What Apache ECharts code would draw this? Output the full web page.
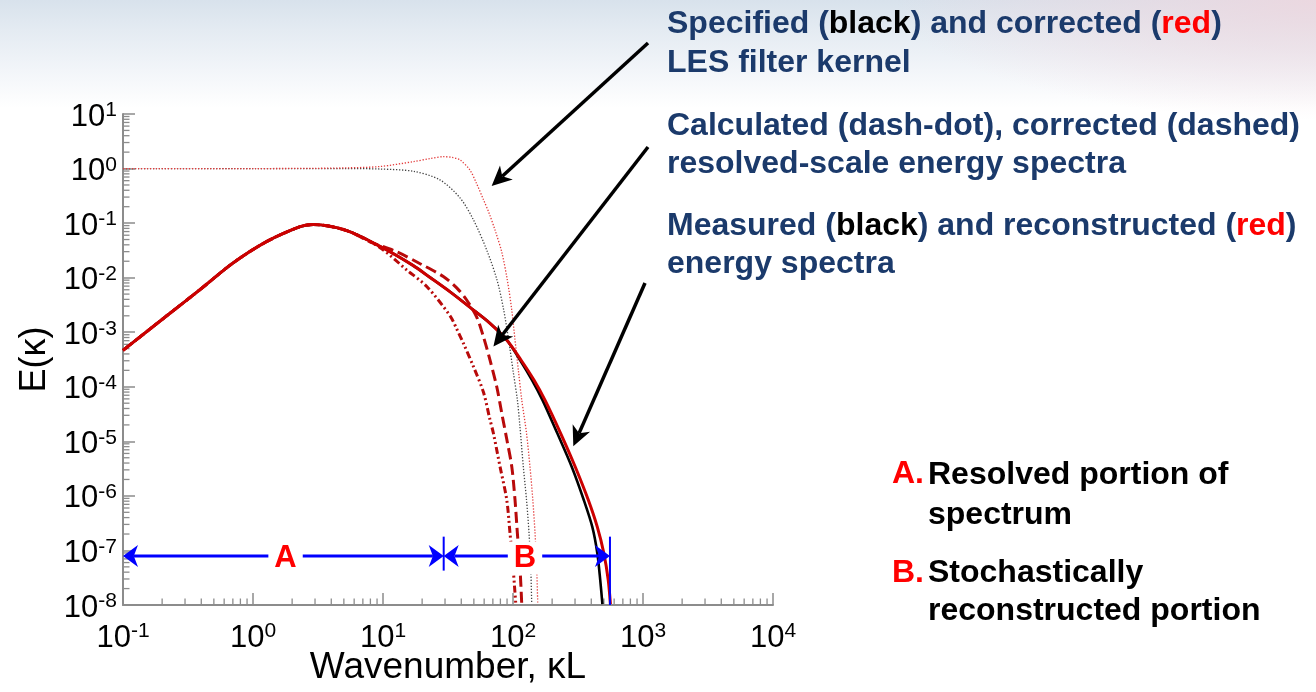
<!DOCTYPE html>
<html>
<head>
<meta charset="utf-8">
<script src="https://cdn.jsdelivr.net/npm/echarts@6/dist/echarts.min.js"></script>
<style>
html,body{margin:0;padding:0;width:1316px;height:692px;overflow:hidden;}
body{
  background:
    radial-gradient(ellipse 420px 120px at 100% 0%, rgba(238,214,222,0.85), rgba(255,255,255,0) 100%),
    linear-gradient(180deg, #d8e2ec 0px, #e4ebf2 30px, #f2f5f9 70px, #ffffff 108px);
}
#c{width:1316px;height:692px;}
</style>
</head>
<body>
<div id="c"></div>
<script>
// ---------------- data ----------------
// Specified LES filter kernel (black dotted)
const kernelSpecK = [0.1, 1, 5, 9.5, 17.1, 27.4, 39.1, 49.6, 62.8, 75.3, 84.7, 92.5, 100, 108, 113, 120, 127, 132.8, 136.8, 139.3];
const kernelSpecV = [1, 1, 1, 0.98, 0.89, 0.62, 0.29, 0.115, 0.032, 0.0091, 0.0026, 7.3e-4, 2.0e-4, 5.8e-5, 1.9e-5, 3.47e-6, 8.5e-7, 2.1e-7, 5.1e-8, 1.06e-8];
// Corrected LES filter kernel (red dotted)
const kernelCorrK = [0.1, 1, 3, 5.3, 9.5, 17.1, 23, 29.1, 34, 39.1, 46.6, 52.3, 59.2, 65.4, 72.7, 81.9, 90.4, 97.7, 103.6, 110, 116.7, 127, 135, 142, 147.7, 152, 155];
const kernelCorrV = [1, 1, 1.01, 1.03, 1.09, 1.34, 1.52, 1.65, 1.6, 1.44, 0.94, 0.54, 0.27, 0.153, 0.0748, 0.0296, 0.0091, 0.0026, 7.3e-4, 2.0e-4, 5.8e-5, 1.42e-5, 3.47e-6, 8.5e-7, 2.1e-7, 5.1e-8, 1.06e-8];
// Measured energy spectrum (black solid)
const measuredK = [0.1, 0.217, 0.39, 0.7, 1.27, 2.3, 2.91, 5.26, 9.5, 17, 23, 32.8, 46.7, 66.5, 89.5, 113.2, 140, 168.6, 218.8, 283.4, 350.4, 407.4, 445, 468.7, 487.3];
const measuredE = [4.66e-4, 2.0e-3, 6.0e-3, 0.0185, 0.0458, 0.086, 0.094, 0.073, 0.0374, 0.0168, 0.0101, 0.0055, 0.00286, 0.00146, 7.2e-4, 3.1e-4, 1.33e-4, 5.7e-5, 1.42e-5, 3.39e-6, 8.4e-7, 2.7e-7, 9.0e-8, 2.9e-8, 1.04e-8];
// Reconstructed energy spectrum (red solid)
const reconK = [0.1, 0.217, 0.39, 0.7, 1.27, 2.3, 2.91, 5.26, 9.5, 17, 23, 32.8, 46.7, 66.5, 89.5, 115.2, 145, 176.3, 232, 301.5, 379.6, 445, 499.4, 539.9, 561.5];
const reconE = [4.66e-4, 2.0e-3, 6.0e-3, 0.0185, 0.0458, 0.086, 0.094, 0.073, 0.0374, 0.0168, 0.0101, 0.0055, 0.00286, 0.00146, 7.2e-4, 3.1e-4, 1.33e-4, 5.7e-5, 1.42e-5, 3.39e-6, 8.4e-7, 2.7e-7, 9.0e-8, 2.9e-8, 1.04e-8];
// Calculated resolved-scale spectrum (dash-dot)
const calcK = [0.1, 0.217, 0.39, 0.7, 1.27, 2.3, 2.91, 5.26, 9.5, 15.2, 21.7, 32.8, 36.9, 41.5, 49.6, 59.2, 66.5, 70.6, 79.4, 89.5, 94.8, 100, 105];
const calcE = [4.66e-4, 2.0e-3, 6.0e-3, 0.0185, 0.0458, 0.086, 0.094, 0.073, 0.0355, 0.0139, 0.0069, 0.0020, 0.00115, 6.3e-4, 2.35e-4, 8.0e-5, 2.5e-5, 1.42e-5, 3.47e-6, 8.5e-7, 2.1e-7, 5.1e-8, 1.06e-8];
// Corrected resolved-scale spectrum (dashed)
const corrK = [0.1, 0.217, 0.39, 0.7, 1.27, 2.3, 2.91, 5.26, 7.94, 12.7, 19.3, 29.1, 36.9, 44, 52.6, 59.2, 66.5, 75, 81.9, 89.5, 97.8, 103.6, 108, 113, 116.7];
const corrE = [4.66e-4, 2.0e-3, 6.0e-3, 0.0185, 0.0458, 0.086, 0.094, 0.073, 0.0454, 0.030, 0.0180, 0.0105, 0.0065, 0.0039, 0.0019, 8.3e-4, 3.1e-4, 1.0e-4, 3.3e-5, 1.1e-5, 3.47e-6, 8.5e-7, 2.1e-7, 5.1e-8, 1.06e-8];

// Axis ranges
const xRange = [0.1, 10000];
const yRange = [1e-8, 10];

// Region annotations (A: resolved, B: stochastically reconstructed)
const regionY = 7.9e-8;
const regionA = [0.1, 29.3];
const regionB = [29.3, 557];
const regionNames = ['A', 'B'];
const regionLabelK = [1.78, 123.7];
const barTop = 1.79e-7;
const barBottoms = [4.27e-8, 1.0e-8];

// Points on the curves that the pointer arrows touch
const pointerTipK = [68.5, 70.7, 291];
const pointerTipE = [0.48, 5.5e-4, 8.1e-6];

// ---------------- layout / style ----------------
const FONT = '"Liberation Sans", Arial, Helvetica, sans-serif';
const NAVY = '#1b3a6b';
const BLUE = '#0000ff';
const pointerStartPx = [[648, 43], [648, 147], [645, 283]];
const zip = (a, b) => a.map((v, i) => [v, b[i]]);

const xMinor = [];
for (let n = -1; n <= 3; n++) for (let k = 2; k <= 9; k++) xMinor.push([k * Math.pow(10, n), yRange[0]]);
const yMinor = [];
for (let n = -8; n <= 0; n++) for (let k = 2; k <= 9; k++) yMinor.push([xRange[0], k * Math.pow(10, n)]);

function tickRenderer(dir) {
  return function (params, api) {
    const p = api.coord([api.value(0), api.value(1)]);
    const L = 6.5;
    const shape = dir === 'x'
      ? { x1: p[0], y1: p[1], x2: p[0], y2: p[1] - L }
      : { x1: p[0], y1: p[1], x2: p[0] + L, y2: p[1] };
    return { type: 'line', shape: shape, style: { stroke: '#8c8c8c', lineWidth: 1.3 }, silent: true };
  };
}

function headPoints(from, tip, len, wid, notch) {
  const dx = tip[0] - from[0], dy = tip[1] - from[1];
  const d = Math.hypot(dx, dy) || 1;
  const ux = dx / d, uy = dy / d, nx = -uy, ny = ux;
  const bx = tip[0] - ux * len, by = tip[1] - uy * len;
  return {
    pts: [tip, [bx + nx * wid / 2, by + ny * wid / 2], [tip[0] - ux * len * notch, tip[1] - uy * len * notch], [bx - nx * wid / 2, by - ny * wid / 2]],
    inner: [tip[0] - ux * len * notch, tip[1] - uy * len * notch]
  };
}

function regionArrowRenderer(params, api) {
  const a = api.coord([api.value(0), api.value(2)]);
  const b = api.coord([api.value(1), api.value(2)]);
  const h1 = headPoints(b, a, 15, 22, 0.72);
  const h2 = headPoints(a, b, 15, 22, 0.72);
  return { type: 'group', silent: true, children: [
    { type: 'line', shape: { x1: h1.inner[0], y1: h1.inner[1], x2: h2.inner[0], y2: h2.inner[1] }, style: { stroke: BLUE, lineWidth: 3 } },
    { type: 'polygon', shape: { points: h1.pts }, style: { fill: BLUE } },
    { type: 'polygon', shape: { points: h2.pts }, style: { fill: BLUE } }
  ] };
}

function barRenderer(params, api) {
  const t = api.coord([api.value(0), api.value(1)]);
  const b = api.coord([api.value(0), api.value(2)]);
  return { type: 'line', silent: true, shape: { x1: t[0], y1: t[1], x2: b[0], y2: b[1] }, style: { stroke: BLUE, lineWidth: 2 } };
}

function regionLabelRenderer(params, api) {
  const p = api.coord([api.value(0), api.value(1)]);
  return { type: 'text', silent: true, x: p[0], y: p[1] + 2, style: {
    text: regionNames[params.dataIndex], fill: '#ff0000', font: 'bold 31px ' + FONT,
    align: 'center', verticalAlign: 'middle', backgroundColor: '#ffffff', padding: [1, 6, 1, 6]
  } };
}

function pointerRenderer(params, api) {
  const tip = api.coord([api.value(0), api.value(1)]);
  const s = pointerStartPx[params.dataIndex];
  const h = headPoints(s, tip, 20, 19, 0.72);
  return { type: 'group', silent: true, children: [
    { type: 'line', shape: { x1: s[0], y1: s[1], x2: h.inner[0], y2: h.inner[1] }, style: { stroke: '#000', lineWidth: 3.5 } },
    { type: 'polygon', shape: { points: h.pts }, style: { fill: '#000' } }
  ] };
}

function supLabel(v) {
  const e = Math.round(Math.log10(v));
  return '{b|10}{s|' + e + '}';
}
const labelRich = {
  b: { fontSize: 31, fontFamily: FONT, color: '#000', lineHeight: 34 },
  s: { fontSize: 21, fontFamily: FONT, color: '#000', lineHeight: 21, verticalAlign: 'top' }
};

const option = {
  animation: false,
  backgroundColor: 'transparent',
  grid: { left: 123, right: 543, top: 114, bottom: 87, containLabel: false, outerBoundsMode: 'none' },
  xAxis: {
    type: 'log', logBase: 10, min: xRange[0], max: xRange[1], splitNumber: 10,
    name: 'Wavenumber, \u03baL', nameLocation: 'middle', nameGap: 44, nameMoveOverlap: false,
    nameTextStyle: { fontSize: 37, fontFamily: FONT, color: '#000' },
    axisLine: { show: true, onZero: false, lineStyle: { color: '#8c8c8c', width: 2 } },
    axisTick: { show: true, inside: true, length: 12, lineStyle: { color: '#8c8c8c', width: 1.5 } },
    axisLabel: { margin: 16, formatter: supLabel, rich: labelRich },
    splitLine: { show: false }
  },
  yAxis: {
    type: 'log', logBase: 10, min: yRange[0], max: yRange[1], splitNumber: 10,
    name: 'E(\u03ba)', nameLocation: 'middle', nameGap: 70, nameRotate: 90, nameMoveOverlap: false,
    nameTextStyle: { fontSize: 36, fontFamily: FONT, color: '#000' },
    axisLine: { show: true, onZero: false, lineStyle: { color: '#8c8c8c', width: 2 } },
    axisTick: { show: true, inside: true, length: 12, lineStyle: { color: '#8c8c8c', width: 1.5 } },
    axisLabel: { margin: 6, padding: [6, 0, 0, 0], formatter: supLabel, rich: labelRich },
    splitLine: { show: false }
  },
  graphic: [
    { type: 'text', left: 667, top: 8, z: 100, style: {
      text: '{n|Specified (}{k|black}{n|) and corrected (}{r|red}{n|)}\n{n|LES filter kernel}',
      rich: {
        n: { fontSize: 32, fontWeight: 'bold', fontFamily: FONT, fill: NAVY, lineHeight: 39 },
        k: { fontSize: 32, fontWeight: 'bold', fontFamily: FONT, fill: '#000', lineHeight: 39 },
        r: { fontSize: 32, fontWeight: 'bold', fontFamily: FONT, fill: '#ff0000', lineHeight: 39 }
      } } },
    { type: 'text', left: 667, top: 110, z: 100, style: {
      text: '{n|Calculated (dash-dot), corrected (dashed)}\n{n|resolved-scale energy spectra}',
      rich: { n: { fontSize: 32, fontWeight: 'bold', fontFamily: FONT, fill: NAVY, lineHeight: 38 } } } },
    { type: 'text', left: 667, top: 210, z: 100, style: {
      text: '{n|Measured (}{k|black}{n|) and reconstructed (}{r|red}{n|)}\n{n|energy spectra}',
      rich: {
        n: { fontSize: 32, fontWeight: 'bold', fontFamily: FONT, fill: NAVY, lineHeight: 38 },
        k: { fontSize: 32, fontWeight: 'bold', fontFamily: FONT, fill: '#000', lineHeight: 38 },
        r: { fontSize: 32, fontWeight: 'bold', fontFamily: FONT, fill: '#ff0000', lineHeight: 38 }
      } } },
    { type: 'text', left: 892, top: 455, z: 100, style: { text: 'A.', font: 'bold 32px ' + FONT, fill: '#ff0000', lineHeight: 39 } },
    { type: 'text', left: 928, top: 455, z: 100, style: { text: 'Resolved portion of\nspectrum', font: 'bold 32px ' + FONT, fill: '#000', lineHeight: 40 } },
    { type: 'text', left: 892, top: 554, z: 100, style: { text: 'B.', font: 'bold 32px ' + FONT, fill: '#ff0000', lineHeight: 38 } },
    { type: 'text', left: 928, top: 554, z: 100, style: { text: 'Stochastically\nreconstructed portion', font: 'bold 32px ' + FONT, fill: '#000', lineHeight: 38 } }
  ],
  series: [
    { type: 'custom', name: 'xMinorTicks', data: xMinor, renderItem: tickRenderer('x'), silent: true, z: 1 },
    { type: 'custom', name: 'yMinorTicks', data: yMinor, renderItem: tickRenderer('y'), silent: true, z: 1 },
    { type: 'line', name: 'Specified kernel', data: zip(kernelSpecK, kernelSpecV), smooth: 0.3, showSymbol: false,
      lineStyle: { color: '#444', width: 1.3, type: [1.3, 1.7] }, z: 2 },
    { type: 'line', name: 'Corrected kernel', data: zip(kernelCorrK, kernelCorrV), smooth: 0.3, showSymbol: false,
      lineStyle: { color: '#e33a3a', width: 1.3, type: [1.3, 1.7] }, z: 3 },
    { type: 'line', name: 'Measured', data: zip(measuredK, measuredE), smooth: 0.3, showSymbol: false,
      lineStyle: { color: '#000', width: 2.6 }, z: 4 },
    { type: 'line', name: 'Calculated', data: zip(calcK, calcE), smooth: 0.3, showSymbol: false,
      lineStyle: { color: '#b80a0a', width: 3, type: [7, 3, 2, 3, 2, 3] }, z: 5 },
    { type: 'line', name: 'Corrected', data: zip(corrK, corrE), smooth: 0.3, showSymbol: false,
      lineStyle: { color: '#b80a0a', width: 3, type: [11, 5] }, z: 5 },
    { type: 'line', name: 'Reconstructed', data: zip(reconK, reconE), smooth: 0.3, showSymbol: false,
      lineStyle: { color: '#cc0000', width: 3 }, z: 6 },
    { type: 'custom', name: 'regionArrows', z: 8, silent: true, renderItem: regionArrowRenderer,
      data: [[regionA[0], regionA[1], regionY], [regionB[0], regionB[1], regionY]] },
    { type: 'custom', name: 'regionBars', z: 8, silent: true, renderItem: barRenderer,
      data: [[regionA[1], barTop, barBottoms[0]], [regionB[1], barTop, barBottoms[1]]] },
    { type: 'custom', name: 'regionLabels', z: 9, silent: true, renderItem: regionLabelRenderer,
      data: regionLabelK.map(k => [k, regionY]) },
    { type: 'custom', name: 'pointers', z: 9, silent: true, renderItem: pointerRenderer, clip: false,
      data: zip(pointerTipK, pointerTipE) }
  ]
};

const chart = echarts.init(document.getElementById('c'));
chart.setOption(option);
</script>
</body>
</html>
